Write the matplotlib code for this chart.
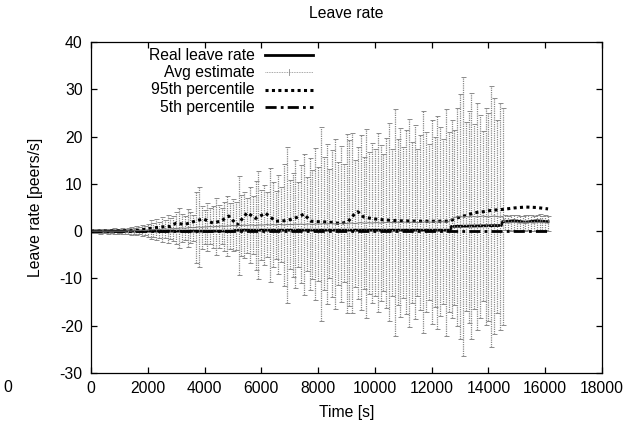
import numpy as np
import matplotlib
matplotlib.use('Agg')
import matplotlib.pyplot as plt
from matplotlib.lines import Line2D

plt.rcParams['font.family'] = ['Liberation Sans', 'DejaVu Sans']
plt.rcParams['font.size'] = 11.3
plt.rcParams['axes.unicode_minus'] = False

# estimator output, one sample every 100 s
step = 100
avg = [0, 0, 0, 0, 0, 0, 0, 0, 0, 0,
       0, 0, 0, 0.1, 0, 0.1, 0.1, 0.1, 0.2, 0.1,
       0.2, 0.3, 0.3, 0.4, 0.3, 0.4, 0.5, 0.4, 0.5, 0.5,
       0.6, 0.6, 0.7, 0.6, 0.7, 0.8, 0.7, 0.8, 0.9, 0.8,
       0.9, 0.9, 1.0, 0.9, 1.0, 1.0, 1.1, 1.0, 1.1, 1.1,
       1.2, 1.1, 1.2, 1.2, 1.3, 1.2, 1.3, 1.3, 1.2, 1.3,
       1.3, 1.3, 1.4, 1.3, 1.4, 1.3, 1.4, 1.4, 1.3, 1.4,
       1.4, 1.4, 1.5, 1.4, 1.5, 1.4, 1.5, 1.5, 1.4, 1.5,
       1.5, 1.5, 1.6, 1.5, 1.6, 1.6, 1.5, 1.6, 1.6, 1.7,
       1.6, 1.7, 1.7, 1.6, 1.7, 1.8, 1.7, 1.7, 1.8, 1.7,
       1.8, 1.8, 1.7, 1.8, 1.8, 1.9, 1.8, 1.8, 1.9, 1.8,
       1.9, 1.9, 1.8, 1.9, 1.9, 1.8, 1.9, 1.9, 2.0, 1.9,
       1.9, 2.0, 1.9, 2.0, 2.0, 1.9, 2.0, 2.6, 2.9, 3.0,
       3.1, 3.0, 3.1, 3.0, 3.2, 3.1, 3.0, 3.1, 3.2, 3.1,
       3.0, 3.1, 3.2, 3.1, 3.0, 3.1, 1.8, 1.7, 1.8, 1.9,
       1.8, 1.7, 1.8, 1.8, 1.9, 1.8, 1.7, 1.8, 1.9, 1.8,
       1.8, 1.7]
err = [0.3, 0.4, 0.3, 0.5, 0.4, 0.3, 0.5, 0.4, 0.6, 0.5,
       0.4, 0.7, 0.5, 0.6, 0.8, 0.6, 0.9, 0.7, 1.2, 0.9,
       1.4, 2.0, 1.5, 2.2, 1.7, 2.6, 1.9, 3.0, 2.2, 2.6,
       3.4, 4.2, 3.0, 2.5, 4.0, 3.3, 2.8, 7.5, 8.5, 4.5,
       3.6, 5.0, 3.8, 4.4, 6.0, 4.5, 3.9, 5.2, 6.3, 4.8,
       5.5, 5.0, 10.5, 6.5, 7.0, 5.8, 8.0, 6.2, 9.5, 11.5,
       7.5, 8.5, 6.8, 12.0, 9.0, 7.2, 10.5, 8.0, 13.0, 16.5,
       9.5, 11.0, 13.5, 9.0, 12.5, 15.0, 10.0, 14.0, 11.5, 16.0,
       12.0, 20.5, 14.0, 17.0, 11.5, 15.5, 18.0, 13.0, 16.5, 12.5,
       19.0, 17.5, 19.0, 13.5, 16.0, 18.5, 14.0, 20.0, 15.0, 17.0,
       15.5, 19.0, 16.5, 14.5, 18.0, 21.0, 15.5, 24.0, 17.5, 20.0,
       16.0, 19.5, 22.0, 17.0, 20.5, 15.5, 18.5, 23.5, 19.0, 16.5,
       21.5, 18.0, 22.5, 20.0, 17.5, 24.0, 19.0, 21.0, 18.5, 23.0,
       26.0, 29.5, 20.0, 22.5, 26.0, 19.5, 24.0, 21.5, 18.0, 23.0,
       22.0, 27.5, 25.0, 20.5, 24.0, 23.0, 1.6, 1.5, 1.7, 1.6,
       1.7, 1.6, 1.5, 1.7, 1.6, 1.7, 1.6, 1.6, 1.7, 1.5,
       1.6, 1.6]

real_t = [0, 5000, 5100, 12650, 12700, 13600, 14450, 14500, 14900, 15300, 15700, 16100]
real_v = [0, 0, 0.2, 0.2, 1.0, 1.1, 1.2, 2.0, 2.2, 1.9, 2.2, 2.0]

p95_t = [0, 1500, 1800, 2100, 2500, 2800, 3000, 3300, 3600, 3950, 4300, 4600,
         4850, 5150, 5500, 5800, 6150, 6500, 6800, 7050, 7300, 7500, 7750, 8000,
         8400, 8800, 9050, 9250, 9400, 9600, 9950, 10300, 10800, 11500, 12000,
         12600, 12900, 13200, 13500, 13800, 14100, 14500, 14900, 15300, 15700, 16100]
p95_v = [0, 0.1, 0.3, 0.6, 0.9, 1.0, 1.7, 1.4, 2.0, 2.6, 1.7, 2.2,
         3.2, 1.3, 3.9, 2.7, 3.8, 2.1, 2.2, 2.5, 3.0, 3.6, 2.1, 2.0,
         1.9, 1.6, 2.0, 3.4, 4.1, 3.0, 2.6, 2.4, 2.2, 2.1, 2.1,
         2.1, 2.8, 3.3, 3.9, 4.1, 4.4, 4.6, 4.9, 5.1, 5.0, 4.7]

p5_t = [0, 16100]
p5_v = [0, 0]

t = np.arange(len(avg)) * step

fig = plt.figure(figsize=(6.3, 4.25), dpi=100)
ax = fig.add_axes([91/630, 52/425, 511/630, 331/425])

ax.plot(real_t, real_v, color='black', lw=2.0, solid_joinstyle='miter')
eb = ax.errorbar(t, avg, yerr=err, fmt='-', color='#777777', lw=0.7,
                 ecolor='#8a8a8a', elinewidth=0.9, capsize=1.8, capthick=0.7)
eb[2][0].set_linestyle((0, (1, 0.8)))
ax.plot(p95_t, p95_v, color='black', lw=2.2, linestyle=(0, (1, 1.1)))
ax.plot(p5_t, p5_v, color='black', lw=2.0, linestyle=(0, (4, 1.5, 1, 1.5)))

ax.set_xlim(0, 18000)
ax.set_ylim(-30, 40)
ax.set_xticks(np.arange(0, 18001, 2000))
ax.set_yticks(np.arange(-30, 41, 10))
ax.tick_params(direction='in', length=4.5, width=0.9, top=True, right=True, pad=6)
for s in ax.spines.values():
    s.set_linewidth(0.9)

ax.set_title('Leave rate', fontsize=11.3, pad=17)
ax.set_xlabel('Time [s]', labelpad=6)
ax.set_ylabel('Leave rate [peers/s]', labelpad=12)

# key in gnuplot style: label right-aligned, sample to its right
labels = ['Real leave rate', 'Avg estimate', '95th percentile', '5th percentile']
styles = [dict(color='black', lw=2.0),
          dict(color='#8a8a8a', lw=0.6, linestyle=(0, (1, 1))),
          dict(color='black', lw=2.2, linestyle=(0, (1, 1.1))),
          dict(color='black', lw=2.0, linestyle=(0, (4, 1.5, 1, 1.5)))]
tx = (255 - 91) / 511
sx0, sx1 = (265 - 91) / 511, (313 - 91) / 511
for k, (lab, st) in enumerate(zip(labels, styles)):
    yy = 1 - (13 + 17.4 * k) / 331
    ax.text(tx, yy, lab, ha='right', va='center', transform=ax.transAxes)
    ax.add_line(Line2D([sx0, sx1], [yy, yy], transform=ax.transAxes, **st))
    if k == 1:
        xm = (sx0 + sx1) / 2
        ax.add_line(Line2D([xm, xm], [yy - 3/331, yy + 3/331], transform=ax.transAxes,
                           color='#8a8a8a', lw=0.6))

fig.text(3/630, 1 - 387/425, '0', ha='left', va='center')

fig.savefig('out.png', dpi=100)
